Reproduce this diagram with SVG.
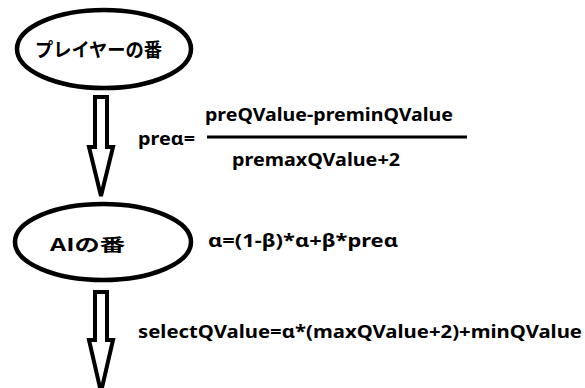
<svg xmlns="http://www.w3.org/2000/svg" width="585" height="388" viewBox="0 0 585 388">
<style>
.node{fill:#fff;stroke:#000;stroke-width:4.5}
.arrow{fill:#fff;stroke:#000;stroke-width:4;stroke-linejoin:miter}
.t{font-family:"Noto Sans","Noto Sans CJK JP",sans-serif;font-weight:bold;fill:#000;font-size:18px}
.j{font-family:"Noto Sans CJK JP",sans-serif;font-weight:bold;fill:#000;font-size:19px}
</style>
<rect width="585" height="388" fill="#fff"/>
<g id="connectors">
<polygon class="arrow" points="95,97 107,97 107,147 113,147 101,196 89,147 95,147"/>
<polygon class="arrow" points="95,292 107,292 107,340 113,340 101,392 89,340 95,340"/>
</g>
<g id="player">
<ellipse class="node" cx="104" cy="49" rx="87" ry="39"/>
<text class="j" x="35" y="57" textLength="127" lengthAdjust="spacingAndGlyphs">プレイヤーの番</text>
</g>
<g id="ai">
<ellipse class="node" cx="103" cy="242" rx="88" ry="38"/>
<text class="j" x="50" y="251" textLength="75" lengthAdjust="spacingAndGlyphs" style="font-size:17px">AIの番</text>
</g>
<g id="formula1">
<text class="t" x="138" y="145" textLength="57" lengthAdjust="spacingAndGlyphs">preα=</text>
<text class="t" x="205" y="121" textLength="248" lengthAdjust="spacingAndGlyphs">preQValue-preminQValue</text>
<line x1="207" y1="137" x2="467" y2="137" stroke="#000" stroke-width="3"/>
<text class="t" x="232" y="166" textLength="168" lengthAdjust="spacingAndGlyphs">premaxQValue+2</text>
</g>
<g id="formula2">
<text class="t" x="208" y="247" textLength="190" lengthAdjust="spacingAndGlyphs">α=(1-β)*α+β*preα</text>
</g>
<g id="formula3">
<text class="t" x="138" y="338" textLength="444" lengthAdjust="spacingAndGlyphs">selectQValue=α*(maxQValue+2)+minQValue</text>
</g>
</svg>
